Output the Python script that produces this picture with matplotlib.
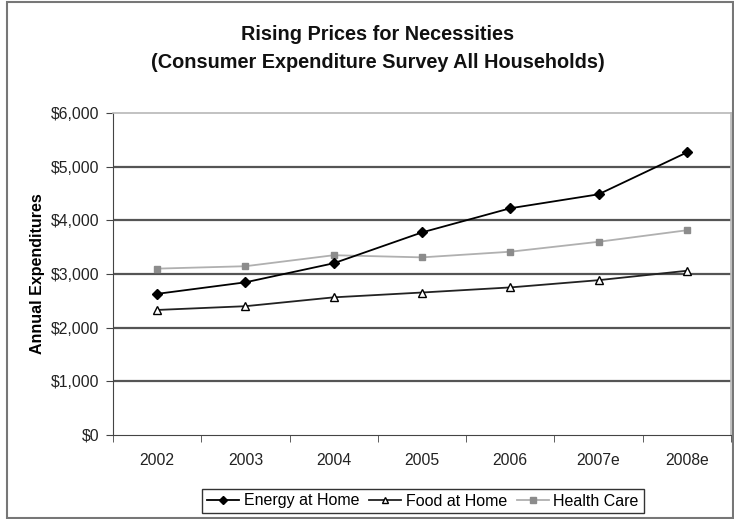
import numpy as np
import matplotlib.pyplot as plt
from matplotlib.patches import Rectangle
from matplotlib.ticker import FuncFormatter

plt.rcParams['font.family'] = ['Liberation Sans', 'DejaVu Sans']

years = ["2002", "2003", "2004", "2005", "2006", "2007e", "2008e"]
energy = [2630, 2845, 3200, 3775, 4225, 4485, 5265]
food = [2330, 2400, 2565, 2655, 2750, 2885, 3060]
health = [3100, 3145, 3350, 3310, 3415, 3600, 3815]

fig = plt.figure(figsize=(7.34, 5.19), dpi=100)
ax = fig.add_axes([113/734, 84/519, 618/734, 322/519])

x = np.arange(len(years))
ax.plot(x, energy, color="black", lw=1.3, marker="D", ms=5, mfc="black",
        mec="black", label="Energy at Home", zorder=4)
ax.plot(x, food, color="#222222", lw=1.3, marker="^", ms=6, mfc="white",
        mec="black", mew=1.0, label="Food at Home", zorder=3)
ax.plot(x, health, color="#b0b0b0", lw=1.3, marker="s", ms=5, mfc="#8c8c8c",
        mec="#8c8c8c", label="Health Care", zorder=3)

ax.set_xlim(-0.5, len(years) - 0.5)
ax.set_ylim(0, 6000)
ax.set_yticks(np.arange(0, 6001, 1000))
ax.yaxis.set_major_formatter(FuncFormatter(lambda v, p: "${:,.0f}".format(v)))
ax.set_xticks(x)
ax.set_xticklabels(years)
ax.set_xticks(np.arange(-0.5, len(years)), minor=True)
ax.tick_params(axis="x", which="major", length=0, pad=13, labelsize=11.3, colors="#222222")
ax.tick_params(axis="x", which="minor", length=5, direction="out", color="#444444")
ax.tick_params(axis="y", length=5, direction="out", color="#444444", labelsize=11.3,
               labelcolor="#222222", pad=5)

for v in range(1000, 6000, 1000):
    ax.axhline(v, color="#555555", lw=1.6, zorder=1)

for s in ["top", "right"]:
    ax.spines[s].set_color("#b8b8b8")
    ax.spines[s].set_linewidth(1.2)
ax.spines["left"].set_color("#444444")
ax.spines["bottom"].set_color("#444444")

ax.set_ylabel("Annual Expenditures", fontsize=11.5, fontweight="bold", labelpad=4)

fig.text(378/734, 1 - 35/519, "Rising Prices for Necessities", ha="center", va="center",
         fontsize=14.3, fontweight="bold", color="#111111")
fig.text(378/734, 1 - 62/519, "(Consumer Expenditure Survey All Households)", ha="center",
         va="center", fontsize=14.3, fontweight="bold", color="#111111")

leg = fig.legend(loc="center", bbox_to_anchor=(423/734, 1 - 501/519), ncol=3,
                 fontsize=11.5, frameon=True, fancybox=False, handlelength=2.0,
                 handletextpad=0.3, columnspacing=0.6, borderpad=0.3, markerscale=0.8)
leg.get_frame().set_edgecolor("black")
leg.get_frame().set_linewidth(1.0)

fig.patches.append(Rectangle((7/734, 0.002), 1 - 7/734 - 0.002, 1 - 3/519,
                             transform=fig.transFigure, fill=False,
                             edgecolor="#777777", lw=1.5))

fig.savefig("out.png", dpi=100)
